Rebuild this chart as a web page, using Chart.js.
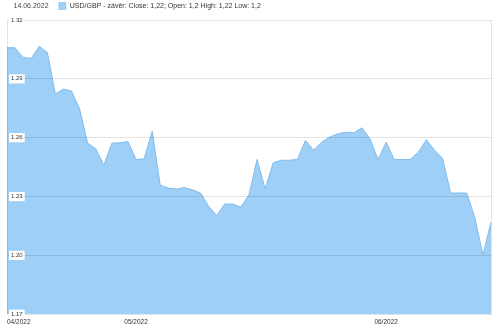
<!DOCTYPE html>
<html>
<head>
<meta charset="utf-8">
<style>
  html, body { margin: 0; padding: 0; background: #fff; }
  #wrap { position: relative; width: 500px; height: 330px; }
</style>
<script src="https://cdn.jsdelivr.net/npm/chart.js@4/dist/chart.umd.min.js"></script>
</head>
<body>
<div id="wrap"><canvas id="chart" width="500" height="330"></canvas></div>
<script>
// USD/GBP denní závěr, 15.04.2022 – 14.06.2022
var startDay = new Date(2022, 3, 15);
var dayCount = 61;
var days = [];
for (var d = 0; d < dayCount; d++) {
  var dt = new Date(startDay.getFullYear(), startDay.getMonth(), startDay.getDate() + d);
  days.push(("0" + dt.getDate()).slice(-2) + "." + ("0" + (dt.getMonth() + 1)).slice(-2) + "." + dt.getFullYear());
}

var closeValues = [
  1.3059, 1.3058, 1.3009, 1.3004, 1.3066, 1.3034, 1.2823, 1.2848, 1.2838, 1.2747,
  1.2572, 1.2544, 1.2460, 1.2572, 1.2574, 1.2580, 1.2489, 1.2492, 1.2633, 1.2357,
  1.2343, 1.2338, 1.2346, 1.2334, 1.2318, 1.2250, 1.2203, 1.2262, 1.2262, 1.2246,
  1.2309, 1.2489, 1.2338, 1.2472, 1.2485, 1.2485, 1.2489, 1.2586, 1.2536, 1.2577,
  1.2603, 1.2620, 1.2628, 1.2625, 1.2650, 1.2594, 1.2489, 1.2577, 1.2489, 1.2489,
  1.2489, 1.2527, 1.2590, 1.2536, 1.2494, 1.2318, 1.2318, 1.2318, 1.2192, 1.2002,
  1.2170
];

var monthTickIndex = [0, 16, 47, 60];
var monthTickLabels = ["04/2022", "05/2022", "06/2022", ""];

var yMin = 1.17, yMax = 1.32, yStep = 0.03;

var dateLabel = "14.06.2022";
var seriesLabel = "USD/GBP - závěr: Close: 1,22; Open: 1,2 High: 1,22 Low: 1,2";

var fillColor = "#9dcff7";
var lineColor = "#84bbea";
var gridColor = "rgba(0,0,0,0.11)";
var textColor = "#333333";
var fontFamily = "Liberation Sans, Arial, sans-serif";

new Chart(document.getElementById("chart"), {
  type: "line",
  data: {
    labels: days,
    datasets: [{
      label: seriesLabel,
      data: closeValues,
      fill: "start",
      backgroundColor: fillColor,
      borderColor: lineColor,
      borderWidth: 1,
      pointRadius: 0,
      tension: 0
    }]
  },
  options: {
    responsive: false,
    animation: false,
    layout: { padding: { left: 0, right: 9, top: 0, bottom: 0 } },
    plugins: {
      tooltip: { enabled: false },
      legend: {
        position: "top",
        align: "start",
        labels: {
          boxWidth: 8,
          boxHeight: 8,
          padding: 2,
          color: textColor,
          font: { family: fontFamily, size: 7 },
          generateLabels: function () {
            return [
              { text: dateLabel + "\u00a0\u00a0\u00a0\u00a0", fillStyle: "rgba(0,0,0,0)", strokeStyle: "rgba(0,0,0,0)", lineWidth: 0, fontColor: "#444" },
              { text: seriesLabel, fillStyle: fillColor, strokeStyle: fillColor, lineWidth: 0, fontColor: textColor }
            ];
          }
        }
      }
    },
    scales: {
      x: {
        type: "category",
        grid: { display: false, drawTicks: false },
        border: { display: false },
        afterBuildTicks: function (scale) {
          scale.ticks = monthTickIndex.map(function (i) { return { value: i }; });
        },
        ticks: {
          autoSkip: false,
          maxRotation: 0,
          align: "inner",
          padding: 4,
          color: textColor,
          font: { family: fontFamily, size: 6.5 },
          callback: function (value) {
            var k = monthTickIndex.indexOf(value);
            return k >= 0 ? monthTickLabels[k] : "";
          }
        }
      },
      y: {
        position: "left",
        min: yMin,
        max: yMax,
        afterFit: function (scale) { scale.width = 7; },
        grid: { z: 1, color: gridColor, drawTicks: false, tickLength: 0 },
        border: { z: 1, display: true, color: gridColor },
        ticks: {
          z: 2,
          stepSize: yStep,
          mirror: true,
          padding: 4,
          color: textColor,
          font: { family: fontFamily, size: 6 },
          showLabelBackdrop: true,
          backdropColor: "#ffffff",
          backdropPadding: { left: 2, right: 2, top: 1, bottom: 1 },
          callback: function (v) { return v.toFixed(2); }
        }
      },
      y2: {
        position: "right",
        min: yMin,
        max: yMax,
        grid: { drawOnChartArea: false, drawTicks: false, tickLength: 0 },
        border: { display: true, color: gridColor },
        ticks: { display: false }
      }
    }
  }
});
</script>
</body>
</html>
